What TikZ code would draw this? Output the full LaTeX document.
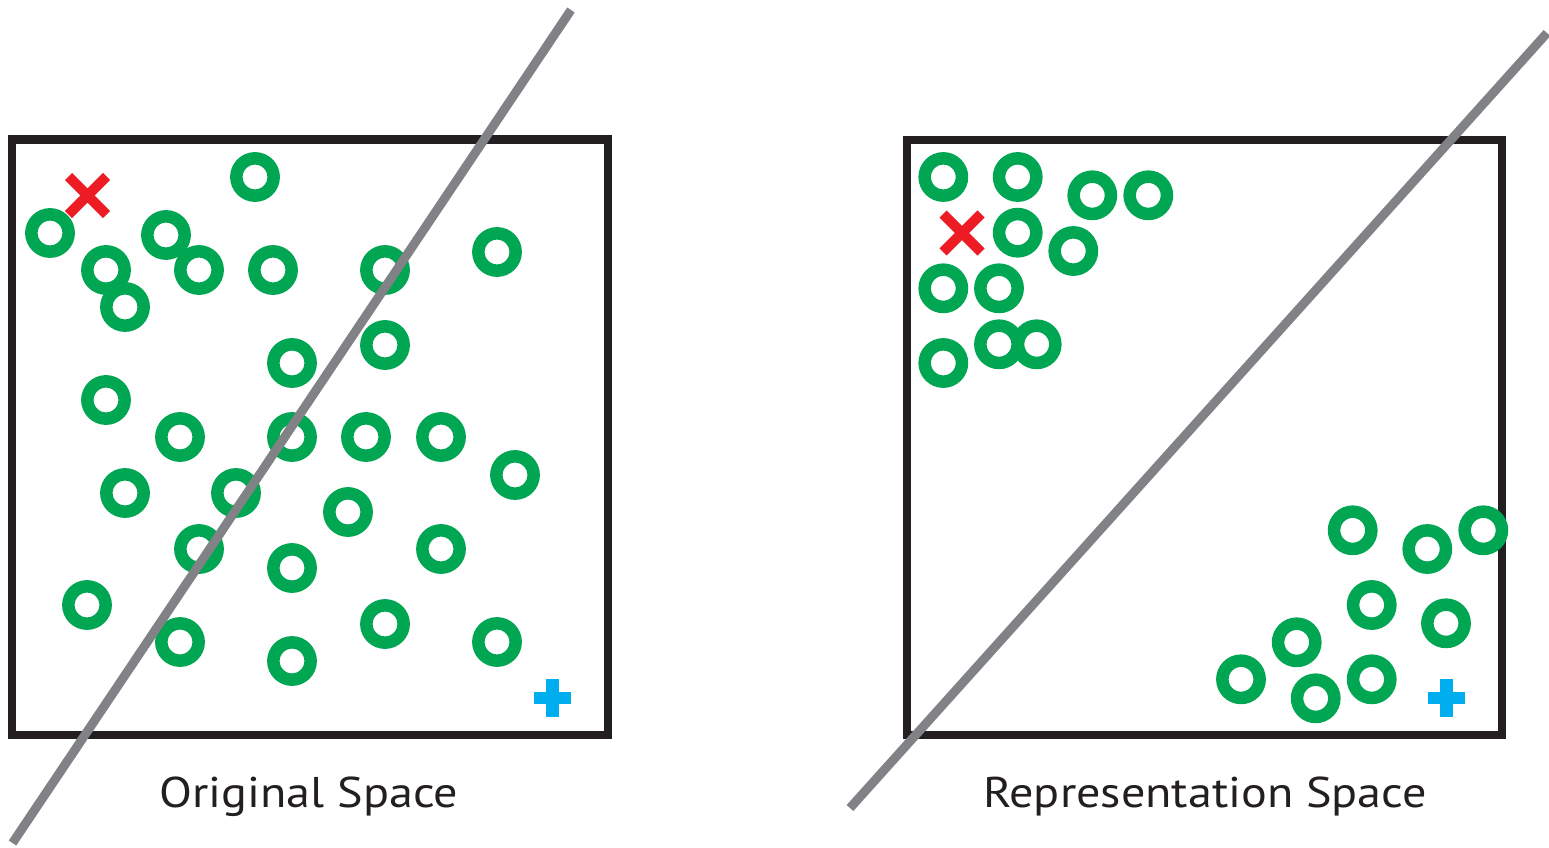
\documentclass[tikz,border=0pt]{standalone}
\usepackage{fontspec}
\setmainfont{PT Sans}[FakeStretch=1.12]
\definecolor{ptgreen}{HTML}{00A651}
\definecolor{xred}{HTML}{ED1C24}
\definecolor{pblue}{HTML}{00AEEF}
\definecolor{sepgray}{HTML}{808285}
\definecolor{frameblack}{HTML}{231F20}
\tikzset{
  pt/.style={circle, draw=ptgreen, line width=12.5pt, minimum size=37.3pt, inner sep=0pt},
  panel/.style={draw=frameblack, line width=8pt, minimum width=595.5pt, minimum height=595.5pt, inner sep=0pt},
  sep/.style={draw=sepgray, line width=9pt},
  caption/.style={font=\fontsize{43}{47}\selectfont, text=frameblack, anchor=base, inner sep=0pt},
  anchorpt/.style={inner sep=0pt, minimum size=0pt},
  xbar/.style={draw=xred, line width=10pt},
  pmark/.style={minimum size=37.4pt, inner sep=0pt, path picture={
      \draw[pblue, line width=12.6pt] (path picture bounding box.west) -- (path picture bounding box.east)
        (path picture bounding box.north) -- (path picture bounding box.south);}}
}
\begin{document}
\begin{tikzpicture}[x=1pt, y=-1pt]
\useasboundingbox (0,0) rectangle (1549,848);

% frames
\node[panel] (orig) at (310.2,437.25) {};
\node[panel, minimum width=595.3pt, minimum height=594.5pt] (repr) at (1204.3,437.25) {};

% original space samples
\foreach \n/\x/\y in {1/255/177, 2/50/233, 3/166/235, 4/106/270, 5/199/270, 6/273/270, 7/385/270,
  8/497/252, 9/125/307, 10/292/363, 11/385/345, 12/106/400, 13/180/437, 14/292/437, 15/366/437,
  16/441/437, 17/515/475, 18/125/493, 19/236/493, 20/348/512, 21/199/549, 22/292/568, 23/441/549,
  24/87/605, 25/180/642, 26/292/661, 27/385/624, 28/497/642}
  \node[pt] (o\n) at (\x,\y) {};

% representation space samples
\foreach \n/\x/\y in {1/943.3/177, 2/1017.7/177, 3/1092.3/195.3, 4/1148.3/195.3, 5/1017.7/232.7,
  6/1073.3/251, 7/943.3/288.3, 8/999/288.3, 9/999/344.3, 10/1036.7/344.3, 11/943.3/363,
  12/1352.7/530.3, 13/1427.3/549, 14/1483.3/530.3, 15/1371.7/605, 16/1446/623.3,
  17/1296.7/642.3, 18/1241/679.3, 19/1315.7/698.3, 20/1371.7/679.3}
  \node[pt] (r\n) at (\x,\y) {};

% query points: crosses
\foreach \q/\x/\y in {ox/87.5/195.5, rx/962/233} {
  \node[anchorpt] (\q) at (\x,\y) {};
  \draw[xbar] ([shift={(-19,-19)}]\q.center) -- ([shift={(19,19)}]\q.center)
              ([shift={(-19,19)}]\q.center) -- ([shift={(19,-19)}]\q.center);
}
% query points: pluses
\node[pmark] (op) at (552.5,698) {};
\node[pmark] (rp) at (1446.3,698) {};

% separating lines
\coordinate (oa) at (12.5,843);
\coordinate (ob) at (571,10);
\coordinate (ra) at (850,808);
\coordinate (rb) at (1547,33);
\draw[sep] (oa) -- (ob);
\draw[sep] (ra) -- (rb);

% captions
\node[caption] (ocap) at (309,807) {Original Space};
\node[caption] (rcap) at (1205,807) {Representation Space};
\end{tikzpicture}
\end{document}
